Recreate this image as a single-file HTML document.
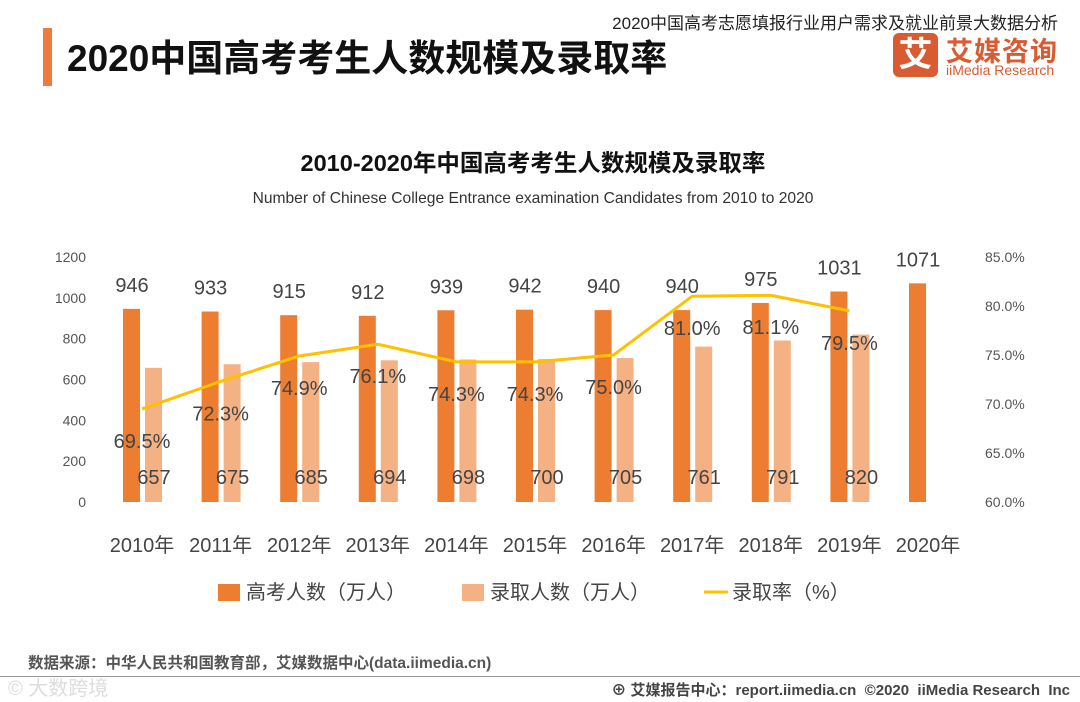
<!DOCTYPE html>
<html><head><meta charset="utf-8">
<style>
body{margin:0;width:1080px;height:702px;background:#fff;overflow:hidden;font-family:"Liberation Sans","Noto Sans CJK SC",sans-serif;position:relative}
.abs{position:absolute;white-space:nowrap}
</style></head><body>
<div class="abs" style="right:22px;top:9px;font-size:17px;color:#222">2020中国高考志愿填报行业用户需求及就业前景大数据分析</div>
<div class="abs" style="left:43px;top:28px;width:9px;height:58px;background:#ee7b3c"></div>
<div class="abs" style="left:67px;top:28px;font-size:37px;font-weight:bold;color:#111">2020中国高考考生人数规模及录取率</div>
<div class="abs" style="left:893px;top:33px;width:45px;height:44px;background:#d95b32;border-radius:6px;color:#fff;font-size:34px;font-weight:bold;text-align:center;line-height:44px">艾</div>
<div class="abs" style="left:946px;top:30px;font-size:27px;font-weight:bold;color:#d95b32;letter-spacing:1px">艾媒咨询</div>
<div class="abs" style="left:946px;top:62px;font-size:14px;color:#d95b32">iiMedia Research</div>
<svg id="chart" width="1080" height="702" style="position:absolute;left:0;top:0"></svg>
<div class="abs" style="left:28px;top:651px;font-size:15.5px;font-weight:bold;color:#555">数据来源：中华人民共和国教育部，艾媒数据中心(data.iimedia.cn)</div>
<div class="abs" style="left:0;top:676px;width:1080px;height:1px;background:#999"></div>
<div class="abs" style="right:10px;top:679px;font-size:15px;font-weight:bold;color:#444">⊕ 艾媒报告中心：report.iimedia.cn &nbsp;©2020 &nbsp;iiMedia Research &nbsp;Inc</div>
<div class="abs" style="left:8px;top:672px;font-size:20px;color:#ddd">© 大数跨境</div>
<script>
const years=["2010年","2011年","2012年","2013年","2014年","2015年","2016年","2017年","2018年","2019年","2020年"];
const candidates=[946,933,915,912,939,942,940,940,975,1031,1071];
const admitted=[657,675,685,694,698,700,705,761,791,820,null];
const rate=[69.5,72.3,74.9,76.1,74.3,74.3,75.0,81.0,81.1,79.5,null];
const leftTicks=[0,200,400,600,800,1000,1200];
const rightTicks=[60,65,70,75,80,85];
const svg=document.getElementById('chart');
const NS='http://www.w3.org/2000/svg';
const y0=502,yTop=257;
const yL=v=>y0-(v/1200)*(y0-yTop);
const yR=v=>y0-((v-60)/25)*(y0-yTop);
const xC=i=>142+i*78.6;
function mk(t,a,txt){const e=document.createElementNS(NS,t);for(const k in a)e.setAttribute(k,a[k]);if(txt!=null)e.textContent=txt;svg.appendChild(e);return e;}
let e;
e=mk('text',{x:533,y:171,'text-anchor':'middle','font-size':23.5,'font-weight':'bold',fill:'#111'},'2010-2020年中国高考考生人数规模及录取率');


e=mk('text',{x:533,y:203,'text-anchor':'middle','font-size':15.6,fill:'#333'},'Number of Chinese College Entrance examination Candidates from 2010 to 2020');


leftTicks.forEach(t=>{e=mk('text',{x:86,y:yL(t)+5,'text-anchor':'end','font-size':14,fill:'#555'},t);

});
rightTicks.forEach(t=>{e=mk('text',{x:985,y:yR(t)+5,'font-size':14,fill:'#555'},t.toFixed(1)+'%');

});
years.forEach((y,i)=>{
 const x=xC(i);
 e=mk('rect',{x:x-19,y:yL(candidates[i]),width:17,height:y0-yL(candidates[i]),fill:'#ed7d31'});
 
 
 e=mk('text',{x:x-10,y:yL(candidates[i])-17,'text-anchor':'middle','font-size':20,fill:'#444'},candidates[i]);
 
 
 if(admitted[i]!=null){
  e=mk('rect',{x:x+3,y:yL(admitted[i]),width:17,height:y0-yL(admitted[i]),fill:'#f4b183'});
  
  
  e=mk('text',{x:x+12,y:484,'text-anchor':'middle','font-size':20,fill:'#444'},admitted[i]);
  
  
 }
 e=mk('text',{x:x,y:552,'text-anchor':'middle','font-size':20,fill:'#444'},y);
 
 
});
const pts=rate.map((r,i)=>r==null?null:[xC(i),yR(r)]).filter(p=>p);
e=mk('polyline',{points:pts.map(p=>p.join(',')).join(' '),fill:'none',stroke:'#ffc000','stroke-width':3});


rate.forEach((r,i)=>{if(r==null)return;
 e=mk('text',{x:xC(i),y:yR(r)+39,'text-anchor':'middle','font-size':20,fill:'#444'},r.toFixed(1)+'%');
 
 });
const leg=[['rect','#ed7d31','高考人数（万人）',218],['rect','#f4b183','录取人数（万人）',462],['line','#ffc000','录取率（%）',704]];
leg.forEach(l=>{
 if(l[0]=='rect'){e=mk('rect',{x:l[3],y:584,width:22,height:17,fill:l[1]});}
 else{e=mk('line',{x1:l[3],y1:592,x2:l[3]+24,y2:592,stroke:l[1],'stroke-width':3});}
 
 
 e=mk('text',{x:l[3]+28,y:599,'font-size':20,fill:'#444'},l[2]);
 
 
});
</script>
</body></html>
